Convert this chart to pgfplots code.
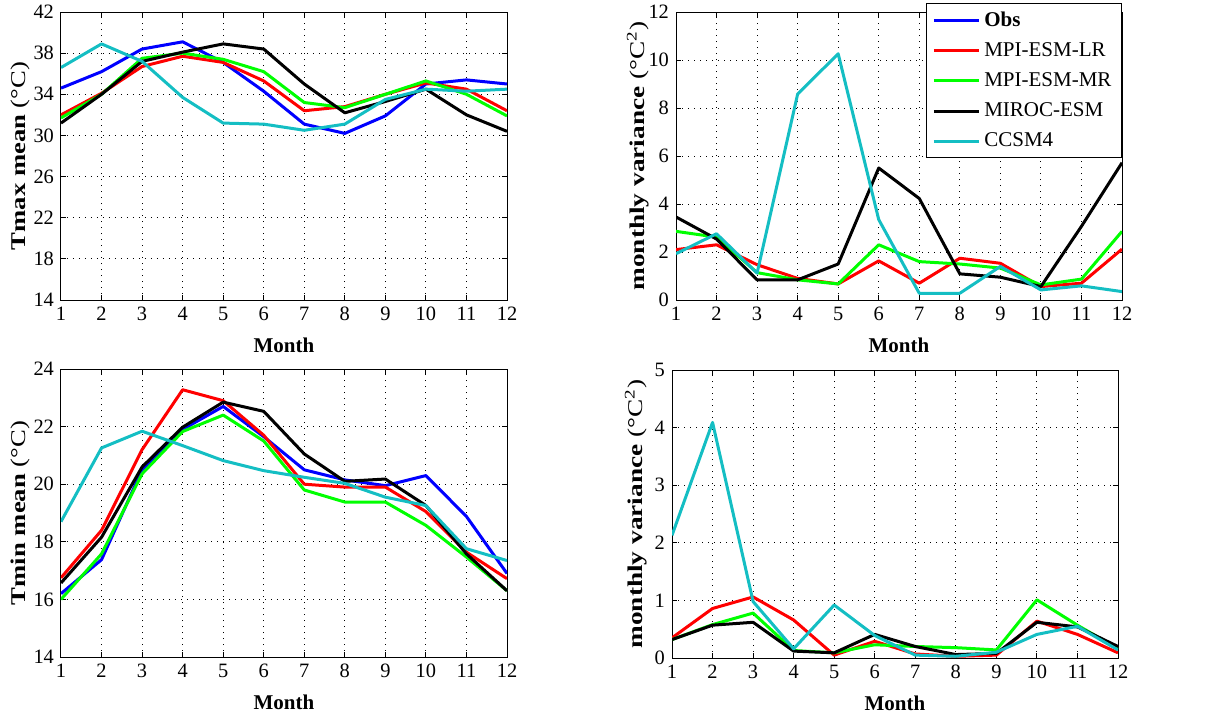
\documentclass[border=0pt]{standalone}
\usepackage{fontspec}
\setmainfont{Liberation Serif}
\usepackage{pgfplots}
\usepackage{graphicx}
\pgfplotsset{compat=1.18}
\definecolor{cc}{RGB}{20,190,195}
\definecolor{gg}{RGB}{0,255,0}
\pgfplotsset{
 myax/.style={
  scale only axis, width=223pt, height=144pt,
  xmin=1, xmax=12, xtick={1,...,12},
  tick align=inside, major tick length=2.5pt,
  grid=major,
  major grid style={black, line width=0.5pt, dash pattern=on 0.6pt off 2.4pt},
  axis line style={line width=0.5pt},
  every tick/.style={black, line width=0.5pt},
  /pgf/number format/assume math mode=true,
  ticklabel style={font=\fontsize{10.2}{12}\selectfont},
  xlabel={\textbf{Month}},
  xlabel style={font=\fontsize{10.5}{12}\selectfont, at={(axis description cs:0.5,0)}, anchor=base, yshift=-26pt},
  ylabel style={font=\fontsize{10.5}{12}\selectfont, at={(axis description cs:-0.092,0.5)}, anchor=center},
  every axis plot/.append style={line width=1.5pt, line join=round},
  legend image code/.code={\draw[#1, line width=1.5pt] (0pt,0pt) -- (22.5pt,0pt);},
 }
}
\begin{document}
\begin{tikzpicture}
\path[use as bounding box] (0pt,0pt) rectangle (613.5pt,-359.5pt);
% Top-left: Tmax mean
\begin{axis}[myax, at={(30.5pt,-150pt)}, anchor=south west,
  ymin=14, ymax=42, ytick={14,18,...,42},
  ylabel={\scalebox{1.27}[1]{\textbf{Tmax mean} (°C)}}]
\addplot[blue] coordinates {(1,34.6)(2,36.2)(3,38.4)(4,39.1)(5,37.1)(6,34.3)(7,31.1)(8,30.2)(9,31.9)(10,35.0)(11,35.4)(12,35.0)};
\addplot[red] coordinates {(1,32.0)(2,34.1)(3,36.7)(4,37.7)(5,37.1)(6,35.3)(7,32.4)(8,32.8)(9,34.0)(10,35.1)(11,34.5)(12,32.4)};
\addplot[gg] coordinates {(1,31.7)(2,34.0)(3,37.5)(4,38.0)(5,37.4)(6,36.2)(7,33.2)(8,32.7)(9,34.0)(10,35.3)(11,34.0)(12,31.9)};
\addplot[black] coordinates {(1,31.2)(2,34.0)(3,37.2)(4,38.1)(5,38.9)(6,38.4)(7,35.0)(8,32.2)(9,33.3)(10,34.5)(11,32.0)(12,30.4)};
\addplot[cc] coordinates {(1,36.6)(2,38.9)(3,37.2)(4,33.7)(5,31.2)(6,31.1)(7,30.5)(8,31.1)(9,33.5)(10,34.5)(11,34.3)(12,34.5)};
\end{axis}
% Top-right: Tmax variance
\begin{axis}[myax, at={(338pt,-150pt)}, anchor=south west,
  ymin=0, ymax=12, ytick={0,2,...,12},
  ylabel style={at={(axis description cs:-0.085,0.5)}},
  ylabel={\scalebox{1.3}[1]{\textbf{monthly variance} (°C\textsuperscript{2})}},
  legend style={at={(1,1.031)}, anchor=north east, draw=black, line width=0.5pt, fill=white,
    font=\fontsize{10.5}{12}\selectfont, row sep=2.6pt},
  legend cell align=left]
\addlegendimage{blue, line width=1.5pt}
\addlegendentry{\textbf{Obs}}
\addplot[red] coordinates {(1,2.1)(2,2.3)(3,1.47)(4,0.9)(5,0.67)(6,1.63)(7,0.7)(8,1.74)(9,1.53)(10,0.56)(11,0.7)(12,2.12)};
\addlegendentry{MPI-ESM-LR}
\addplot[gg] coordinates {(1,2.86)(2,2.62)(3,1.14)(4,0.84)(5,0.67)(6,2.3)(7,1.6)(8,1.5)(9,1.33)(10,0.63)(11,0.87)(12,2.86)};
\addlegendentry{MPI-ESM-MR}
\addplot[black] coordinates {(1,3.46)(2,2.54)(3,0.84)(4,0.84)(5,1.5)(6,5.5)(7,4.23)(8,1.09)(9,0.95)(10,0.56)(11,3.07)(12,5.72)};
\addlegendentry{MIROC-ESM}
\addplot[cc] coordinates {(1,1.93)(2,2.76)(3,1.12)(4,8.58)(5,10.26)(6,3.35)(7,0.28)(8,0.28)(9,1.4)(10,0.42)(11,0.59)(12,0.35)};
\addlegendentry{CCSM4}
\end{axis}
% Bottom-left: Tmin mean
\begin{axis}[myax, at={(30.5pt,-328.5pt)}, anchor=south west,
  ymin=14, ymax=24, ytick={14,16,...,24},
  ylabel={\scalebox{1.27}[1]{\textbf{Tmin mean} (°C)}}]
\addplot[blue] coordinates {(1,16.2)(2,17.38)(3,20.5)(4,21.9)(5,22.7)(6,21.65)(7,20.5)(8,20.15)(9,19.95)(10,20.3)(11,18.88)(12,16.9)};
\addplot[red] coordinates {(1,16.75)(2,18.4)(3,21.2)(4,23.28)(5,22.9)(6,21.7)(7,20.0)(8,19.9)(9,19.9)(10,19.05)(11,17.64)(12,16.72)};
\addplot[gg] coordinates {(1,16.0)(2,17.58)(3,20.36)(4,21.83)(5,22.4)(6,21.5)(7,19.8)(8,19.38)(9,19.38)(10,18.57)(11,17.47)(12,16.3)};
\addplot[black] coordinates {(1,16.57)(2,18.16)(3,20.6)(4,21.98)(5,22.85)(6,22.53)(7,21.05)(8,20.1)(9,20.18)(10,19.26)(11,17.58)(12,16.3)};
\addplot[cc] coordinates {(1,18.7)(2,21.26)(3,21.84)(4,21.34)(5,20.82)(6,20.47)(7,20.24)(8,20.03)(9,19.55)(10,19.26)(11,17.76)(12,17.35)};
\end{axis}
% Bottom-right: Tmin variance
\begin{axis}[myax, at={(336pt,-329pt)}, anchor=south west,
  ymin=0, ymax=5, ytick={0,1,...,5},
  ylabel style={at={(axis description cs:-0.081,0.5)}},
  ylabel={\scalebox{1.3}[1]{\textbf{monthly variance} (°C\textsuperscript{2})}}]
\addplot[red] coordinates {(1,0.35)(2,0.86)(3,1.06)(4,0.66)(5,0.05)(6,0.29)(7,0.07)(8,0.03)(9,0.05)(10,0.64)(11,0.41)(12,0.09)};
\addplot[gg] coordinates {(1,0.32)(2,0.58)(3,0.78)(4,0.13)(5,0.09)(6,0.23)(7,0.2)(8,0.18)(9,0.14)(10,1.01)(11,0.57)(12,0.16)};
\addplot[black] coordinates {(1,0.32)(2,0.57)(3,0.62)(4,0.12)(5,0.09)(6,0.41)(7,0.2)(8,0.06)(9,0.08)(10,0.62)(11,0.54)(12,0.2)};
\addplot[cc] coordinates {(1,2.13)(2,4.09)(3,0.98)(4,0.16)(5,0.92)(6,0.39)(7,0.05)(8,0.03)(9,0.1)(10,0.41)(11,0.55)(12,0.14)};
\end{axis}
\end{tikzpicture}
\end{document}
